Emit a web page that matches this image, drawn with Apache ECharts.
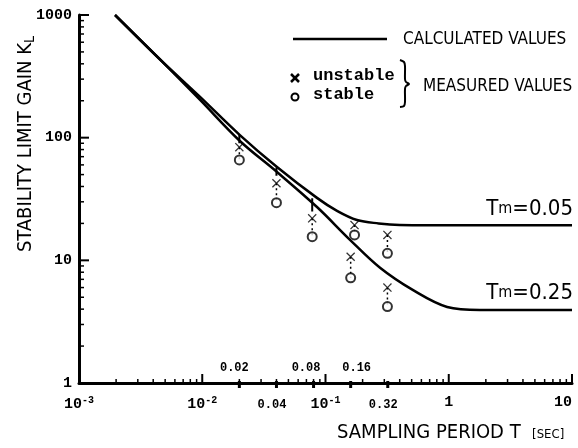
<!DOCTYPE html>
<html>
<head>
<meta charset="utf-8">
<script src="https://cdn.jsdelivr.net/npm/echarts@6/dist/echarts.min.js"></script>
<style>
html,body{margin:0;padding:0;background:#fff;}
#c{width:578px;height:448px;}
</style>
</head>
<body>
<div id="c"></div>
<script>
// ---- data ----
var calcT05 = [0.00196, 0.0045, 0.0096, 0.0202, 0.0404, 0.0853, 0.124, 0.18, 0.27, 0.4, 0.7, 10];
var calcK05 = [1000, 438, 215, 105, 57.7, 32.3, 25.3, 21.3, 20.0, 19.4, 19.3, 19.3];
var calcT25 = [0.00196, 0.0045, 0.0096, 0.0202, 0.0404, 0.0853, 0.158, 0.277, 0.51, 0.97, 1.79, 10];
var calcK25 = [1000, 438, 203, 94, 52.5, 27.2, 14.7, 8.7, 5.74, 4.17, 3.94, 3.94];

var measT        = [0.02, 0.04, 0.078, 0.172, 0.318, 0.16, 0.318];
var unstableK    = [83.6, 42.5, 22.0, 19.4, 16.1, 10.7, 6.0];
var stableK      = [65.8, 29.5, 15.6, 16.1, 11.4, 7.2, 4.2];

var barT    = [0.02, 0.04, 0.078];
var barTop  = [105, 57, 32];
var barBot  = [90, 49, 25];

var majorX  = [0.001, 0.01, 0.1, 1, 10];
var majorXLabels = ['10{s|-3}', '10{s|-2}', '10{s|-1}', '1', '10'];
var specialT      = [0.02, 0.04, 0.08, 0.16, 0.32];
var specialAbove  = [0.02, 0.08, 0.16];
var specialBelow  = [0.04, 0.32];
var majorY  = [1, 10, 100, 1000];
var majorYLabels = ['1', '10', '100', '1000'];

// ---- helpers ----
function minorLog(lo, hi) {
  var out = [];
  for (var d = lo; d < hi; d *= 10) {
    for (var m = 2; m <= 9; m++) out.push(+(m * d).toPrecision(3));
  }
  return out;
}
function zip(a, b) { return a.map(function (v, i) { return [v, b[i]]; }); }
function segs(t, a, b) {
  var out = [];
  for (var i = 0; i < t.length; i++) { out.push([t[i], a[i]]); out.push([t[i], b[i]]); out.push([t[i], '-']); }
  return out;
}
function near(list, v) {
  return list.findIndex(function (m) { return Math.abs(Math.log10(m) - Math.log10(v)) < 1e-6; });
}

var XMIN = majorX[0], XMAX = majorX[majorX.length - 1];
var YMIN = majorY[0], YMAX = majorY[majorY.length - 1];

// tick marks drawn through the axes' own scales (api.coord), as small filled rects
function tickSeries(values, dim, up, down, width) {
  return {
    type: 'custom', silent: true, zlevel: 1, z: 100, clip: false,
    data: values.map(function (v) { return dim === 'x' ? [v, YMIN] : [XMIN, v]; }),
    encode: { x: 0, y: 1 },
    renderItem: function (params, api) {
      var p = api.coord([api.value(0), api.value(1)]);
      if (dim === 'x') {
        return { type: 'rect', shape: { x: p[0] - width / 2, y: p[1] - up, width: width, height: up + down },
          style: { fill: '#000' } };
      }
      return { type: 'rect', shape: { x: p[0] - down, y: p[1] - width / 2, width: up + down, height: width },
        style: { fill: '#000' } };
    }
  };
}

var MONO = "'Liberation Mono', 'DejaVu Sans Mono', monospace";
var NARROW = "'DejaVu Sans Condensed', 'Liberation Sans Narrow', 'DejaVu Sans', sans-serif";
var X_PATH = 'path://M0,1 L1,0 L5,4 L9,0 L10,1 L6,5 L10,9 L9,10 L5,6 L1,10 L0,9 L4,5 Z';

var baseX = { type: 'log', logBase: 10, min: XMIN, max: XMAX, gridIndex: 0, position: 'bottom',
  splitLine: { show: false }, axisLine: { show: false, onZero: false }, axisTick: { show: false }, axisLabel: { show: false } };
function ax(extra) { return Object.assign({}, baseX, extra); }

var chart = echarts.init(document.getElementById('c'), null, { renderer: 'canvas' });
chart.setOption({
  animation: false,
  backgroundColor: '#fff',
  grid: { left: 79, right: 6, top: 15, bottom: 65 },
  xAxis: [
    ax({
      axisLine: { show: true, onZero: false, lineStyle: { color: '#000', width: 3 } },
      axisLabel: {
        show: true, customValues: majorX, margin: 12, color: '#000',
        fontFamily: MONO, fontWeight: 'bold', fontSize: 15,
        alignMaxLabel: 'right',
        formatter: function (v) { var i = near(majorX, v); return i >= 0 ? majorXLabels[i] : ''; },
        rich: { s: { fontSize: 10, fontFamily: MONO, fontWeight: 'bold', verticalAlign: 'top', padding: [0, 0, 8, 0] } }
      }
    }),
    ax({
      axisLabel: {
        show: true, inside: true, margin: 9, customValues: specialAbove, color: '#000',
        fontFamily: MONO, fontWeight: 'bold', fontSize: 12,
        formatter: function (v) {
          var s = v.toFixed(2);
          if (s === '0.02') return '{l|' + s + '}';
          if (s === '0.08') return '{ll|' + s + '}';
          return '{r|' + s + '}';
        },
        rich: {
          l: { fontFamily: MONO, fontWeight: 'bold', fontSize: 12, padding: [0, 10, 0, 0] },
          ll: { fontFamily: MONO, fontWeight: 'bold', fontSize: 12, padding: [0, 15, 0, 0] },
          r: { fontFamily: MONO, fontWeight: 'bold', fontSize: 12, padding: [0, 0, 0, 12] }
        }
      }
    }),
    ax({
      axisLabel: {
        show: true, margin: 16, customValues: specialBelow, color: '#000',
        fontFamily: MONO, fontWeight: 'bold', fontSize: 12,
        formatter: function (v) { return '{l|' + v.toFixed(2) + '}'; },
        rich: { l: { fontFamily: MONO, fontWeight: 'bold', fontSize: 12, padding: [0, 9, 0, 0] } }
      }
    })
  ],
  yAxis: [
    {
      type: 'log', logBase: 10, min: YMIN, max: YMAX, position: 'left',
      splitLine: { show: false },
      axisLine: { show: true, onZero: false, lineStyle: { color: '#000', width: 3 } },
      axisTick: { show: false },
      axisLabel: {
        show: true, customValues: majorY, margin: 7, color: '#000',
        fontFamily: MONO, fontWeight: 'bold', fontSize: 15,
        formatter: function (v) { var i = near(majorY, v); return i >= 0 ? majorYLabels[i] : ''; }
      }
    }
  ],
  series: [
    {
      type: 'line', name: 'Tm=0.05', data: zip(calcT05, calcK05), smooth: 0.35,
      symbol: 'none', lineStyle: { color: '#000', width: 2.5 }, z: 3
    },
    {
      type: 'line', name: 'Tm=0.25', data: zip(calcT25, calcK25), smooth: 0.35,
      symbol: 'none', lineStyle: { color: '#000', width: 2.5 }, z: 3
    },
    {
      type: 'line', name: 'bars', data: segs(barT, barTop, barBot), connectNulls: false,
      symbol: 'none', lineStyle: { color: '#000', width: 2 }, z: 3
    },
    {
      type: 'line', name: 'links', data: segs(measT, unstableK, stableK), connectNulls: false,
      symbol: 'none', lineStyle: { color: '#000', width: 1.5, type: [2, 3] }, z: 2
    },
    {
      type: 'scatter', name: 'unstable', data: zip(measT, unstableK),
      symbol: X_PATH, symbolSize: 9, itemStyle: { color: '#000' }, z: 5
    },
    {
      type: 'scatter', name: 'stable', data: zip(measT, stableK),
      symbol: 'circle', symbolSize: 9, itemStyle: { color: '#fff', borderColor: '#000', borderWidth: 2 }, z: 5
    },
    tickSeries(majorX, 'x', 9, 0, 2),
    tickSeries(minorLog(XMIN, XMAX), 'x', 4, 0, 1.5),
    tickSeries(specialT, 'x', 2, 5, 3),
    tickSeries(majorY, 'y', 10, 0, 2),
    tickSeries(minorLog(YMIN, YMAX), 'y', 5, 0, 1.5)
  ],
  graphic: [
    { type: 'text', x: 26, y: 144, rotation: Math.PI / 2, style: {
        text: 'STABILITY LIMIT GAIN K{s|L}', fill: '#000', font: '20px ' + NARROW,
        align: 'center', verticalAlign: 'middle',
        rich: { s: { font: '14px ' + NARROW, padding: [8, 0, 0, 0] } } } },
    { type: 'text', x: 337, y: 433, style: {
        text: 'SAMPLING PERIOD T  {s|[SEC]}', fill: '#000', font: '20px ' + NARROW,
        align: 'left', verticalAlign: 'middle',
        rich: { s: { font: '13px ' + NARROW, padding: [3, 0, 0, 0] } } } },
    { type: 'line', shape: { x1: 293, y1: 39, x2: 387, y2: 39 }, style: { stroke: '#000', lineWidth: 2.5 } },
    { type: 'text', x: 403, y: 40, style: { text: 'CALCULATED VALUES', fill: '#000', font: '17px ' + NARROW, align: 'left', verticalAlign: 'middle' } },
    { type: 'line', shape: { x1: 291, y1: 74, x2: 299, y2: 82 }, style: { stroke: '#000', lineWidth: 2.5 } },
    { type: 'line', shape: { x1: 299, y1: 74, x2: 291, y2: 82 }, style: { stroke: '#000', lineWidth: 2.5 } },
    { type: 'circle', shape: { cx: 295, cy: 97, r: 3.5 }, style: { stroke: '#000', lineWidth: 2, fill: '#fff' } },
    { type: 'text', x: 313, y: 76, style: { text: 'unstable', fill: '#000', font: 'bold 17px ' + MONO, align: 'left', verticalAlign: 'middle' } },
    { type: 'text', x: 313, y: 95, style: { text: 'stable', fill: '#000', font: 'bold 17px ' + MONO, align: 'left', verticalAlign: 'middle' } },
    { type: 'polyline', shape: { points: [[400, 60], [404, 62], [405, 66], [405, 79], [406, 82], [409, 84], [406, 86], [405, 89], [405, 102], [404, 106], [400, 107]], smooth: 0.3 },
      style: { stroke: '#000', lineWidth: 2, fill: null } },
    { type: 'text', x: 423, y: 87, style: { text: 'MEASURED VALUES', fill: '#000', font: '17px ' + NARROW, align: 'left', verticalAlign: 'middle' } },
    { type: 'text', x: 573, y: 220, style: { text: 'T{m|m}=0.05', fill: '#000', font: '22px ' + NARROW, align: 'right', verticalAlign: 'bottom',
        rich: { m: { font: '16px ' + NARROW } } } },
    { type: 'text', x: 573, y: 304, style: { text: 'T{m|m}=0.25', fill: '#000', font: '22px ' + NARROW, align: 'right', verticalAlign: 'bottom',
        rich: { m: { font: '16px ' + NARROW } } } }
  ]
});
</script>
</body>
</html>
